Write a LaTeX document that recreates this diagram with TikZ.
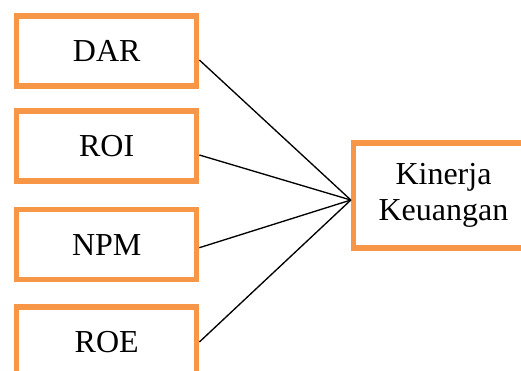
\documentclass[tikz,border=0pt]{standalone}
\usepackage{fontspec}
\setmainfont{Liberation Serif}
\definecolor{boxorange}{RGB}{247,150,70}
\begin{document}
\begin{tikzpicture}[x=0.75pt,y=-0.75pt,
  box/.style={draw=boxorange,line width=4pt,fill=white,minimum width=135pt,minimum height=52.5pt,inner sep=0pt,align=center,font=\fontsize{24}{26.5}\selectfont},
  link/.style={color=black,line width=1pt}]
\useasboundingbox (0,0) rectangle (521,371);
\clip (0,0) rectangle (521,371);
\coordinate (c1) at (106.7,51);
\coordinate (c2) at (106.7,146);
\coordinate (c3) at (106.7,244.7);
\coordinate (c4) at (106.7,342);
\coordinate (c5) at (443.5,195.5);

  \node (dar) at (c1) [box] {DAR};
  \node (roi) at (c2) [box] {ROI};
  \node (npm) at (c3) [box] {NPM};
  \node (roe) at (c4) [box] {ROE};
  \node (kin) at (c5) [box,minimum height=78.75pt] {Kinerja\\Keuangan};

\coordinate (hub) at ([yshift=-3.4pt]kin.west);
  \draw[link] ([yshift=-6.75pt]dar.east) to[] (hub);
  \draw[link] ([yshift=-6.75pt]roi.east) to[] (hub);
  \draw[link] ([yshift=-2.25pt]npm.east) to[] (hub);
  \draw[link] (roe.east) to[] (hub);
\end{tikzpicture}
\end{document}
